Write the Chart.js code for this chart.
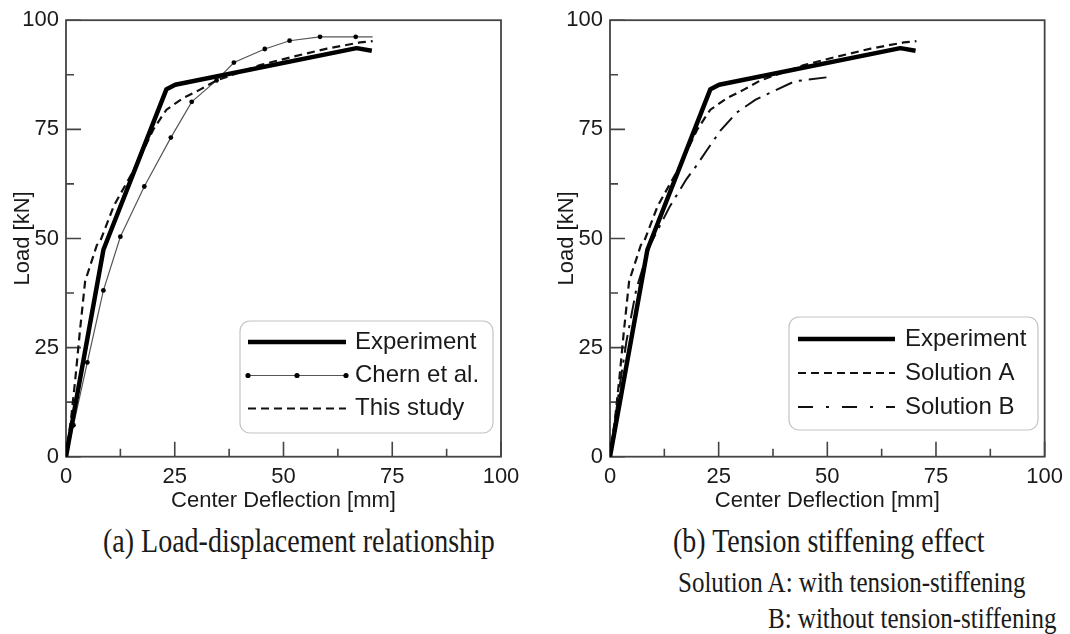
<!DOCTYPE html>
<html>
<head>
<meta charset="utf-8">
<title>Load-deflection curves</title>
<script src="https://cdn.jsdelivr.net/npm/chart.js@4.4.0/dist/chart.umd.min.js"></script>
<style>
  html, body { margin: 0; padding: 0; background: #fff; }
  #page { position: relative; width: 1070px; height: 634px; overflow: hidden; background: #fff; }
  canvas { position: absolute; top: 0; }
  .cap {
    position: absolute;
    font-family: "Liberation Serif", "Times New Roman", serif;
    color: #1a1a1a;
    white-space: nowrap;
    line-height: 1;
    transform: scaleY(1.2);
  }
</style>
</head>
<body>
<div id="page">
  <canvas id="chartA" width="544" height="520" style="left:0"></canvas>
  <canvas id="chartB" width="526" height="520" style="left:544px"></canvas>
  <div class="cap" style="left:103px; top:527px; font-size:28px;">(a) Load-displacement relationship</div>
  <div class="cap" style="left:673px; top:527px; font-size:28px;">(b) Tension stiffening effect</div>
  <div class="cap" style="left:678px; top:569px; font-size:25px;">Solution A: with tension-stiffening</div>
  <div class="cap" style="left:768px; top:605px; font-size:25px;">B: without tension-stiffening</div>
</div>
<script>
// ---- data: center deflection [mm] vs load [kN] ----
const expDefl   = [0, 8.6, 23.1, 25.1, 66.8, 70.3];
const expLoad   = [0, 47.4, 84.2, 85.2, 93.6, 93.0];

const chernDefl = [0, 1.7, 4.9, 8.6, 12.5, 18.0, 24.1, 28.9, 34.6, 38.6, 45.7, 51.4, 58.4, 66.6, 70.5];
const chernLoad = [0, 7.2, 21.6, 38.1, 50.4, 61.9, 73.1, 81.3, 86.2, 90.3, 93.4, 95.3, 96.2, 96.2, 96.2];

const studyDefl = [0, 1.2, 2.1, 3.2, 4.4, 7.1, 7.8, 11.0, 15.5, 20.1, 21.6, 23.1, 27.0, 29.3, 30.8, 34.6, 44.6, 52.0, 60.0, 67.6, 70.5];
const studyLoad = [0, 9.0, 17.4, 28.8, 40.2, 48.5, 49.2, 57.5, 65.5, 75.0, 77.3, 79.5, 82.2, 83.3, 84.1, 86.2, 89.7, 91.6, 93.5, 94.9, 95.2];

const solBDefl  = [0, 2.3, 3.8, 6.1, 9.2, 13.8, 17.6, 19.9, 22.2, 25.4, 29.1, 33.5, 42.5, 49.8];
const solBLoad  = [0, 16.7, 26.5, 38.6, 48.5, 57.4, 63.6, 66.7, 70.1, 74.7, 78.8, 81.8, 86.0, 86.9];

const xTickValues = [0, 25, 50, 75, 100];
const yTickValues = [0, 25, 50, 75, 100];

const pairs = (xs, ys) => xs.map((x, i) => ({ x, y: ys[i] }));

Chart.defaults.font.family = '"Liberation Sans", Arial, sans-serif';
Chart.defaults.color = '#1a1a1a';

// box frame around the plot area plus inward-pointing major/minor ticks
const frameTicks = {
  id: 'frameTicks',
  beforeDatasetsDraw(chart, args, opts) {
    const { ctx, chartArea: a, scales } = chart;
    ctx.save();
    ctx.strokeStyle = opts.color;
    ctx.lineWidth = opts.frameWidth;
    ctx.strokeRect(a.left, a.top, a.right - a.left, a.bottom - a.top);
    ctx.lineWidth = opts.tickWidth;
    ctx.beginPath();
    const drawSet = (scale, horizontal) => {
      const vals = scale.ticks.map(t => t.value);
      vals.forEach((v, i) => {
        const marks = [[v, opts.major]];
        if (i < vals.length - 1) marks.push([(v + vals[i + 1]) / 2, opts.minor]);
        marks.forEach(([val, len]) => {
          const p = scale.getPixelForValue(val);
          if (horizontal) { ctx.moveTo(p, a.bottom); ctx.lineTo(p, a.bottom - len); }
          else { ctx.moveTo(a.left, p); ctx.lineTo(a.left + len, p); }
        });
      });
    };
    drawSet(scales.x, true);
    drawSet(scales.y, false);
    ctx.stroke();
    ctx.restore();
  }
};

// framed legend with line samples taken from each dataset's style
const lineLegend = {
  id: 'lineLegend',
  afterDatasetsDraw(chart, args, o) {
    const { ctx } = chart;
    ctx.save();
    ctx.beginPath();
    ctx.roundRect(o.x, o.y, o.w, o.h, o.radius);
    ctx.fillStyle = '#fff';
    ctx.fill();
    ctx.strokeStyle = o.border;
    ctx.lineWidth = 1.2;
    ctx.stroke();
    chart.data.datasets.forEach((ds, i) => {
      const cy = o.rows[i];
      ctx.beginPath();
      ctx.setLineDash(ds.legendDash || ds.borderDash || []);
      ctx.strokeStyle = ds.borderColor;
      ctx.lineWidth = ds.borderWidth;
      ctx.moveTo(o.sx0, cy);
      ctx.lineTo(o.sx1, cy);
      ctx.stroke();
      ctx.setLineDash([]);
      if (ds.legendMarkers) {
        ctx.fillStyle = ds.pointBackgroundColor;
        [o.sx0, (o.sx0 + o.sx1) / 2, o.sx1].forEach(px => {
          ctx.beginPath();
          ctx.arc(px, cy, ds.legendMarkers, 0, Math.PI * 2);
          ctx.fill();
        });
      }
      ctx.fillStyle = '#1a1a1a';
      ctx.font = o.font;
      ctx.textBaseline = 'middle';
      ctx.textAlign = 'left';
      ctx.fillText(ds.label, o.tx, cy);
    });
    ctx.restore();
  }
};

function axes() {
  const tickFont = { size: 22 };
  return {
    x: {
      type: 'linear', min: 0, max: 100,
      afterBuildTicks: s => { s.ticks = xTickValues.map(v => ({ value: v })); },
      afterFit: s => { s.height = 60; },
      grid: { display: false, drawTicks: false },
      border: { display: false },
      ticks: { font: tickFont, padding: 7, color: '#1a1a1a', maxRotation: 0 },
      title: { display: true, text: 'Center Deflection [mm]', font: { size: 22 }, color: '#1a1a1a', padding: { top: 0, bottom: 2.5 } }
    },
    y: {
      type: 'linear', min: 0, max: 100,
      afterBuildTicks: s => { s.ticks = yTickValues.map(v => ({ value: v })); },
      afterFit: s => { s.width = 66; },
      grid: { display: false, drawTicks: false },
      border: { display: false },
      ticks: { font: tickFont, padding: 7, color: '#1a1a1a' },
      title: { display: true, text: 'Load [kN]', font: { size: 22 }, color: '#1a1a1a', padding: { top: 9.3, bottom: 0 } }
    }
  };
}

const experimentSet = () => ({
  label: 'Experiment', data: pairs(expDefl, expLoad),
  borderColor: '#000', borderWidth: 4.5, pointRadius: 0,
  borderJoinStyle: 'round', borderCapStyle: 'butt', order: 0
});

const frameOpts = { color: '#444', frameWidth: 1.8, tickWidth: 1.6, major: 15, minor: 8 };

new Chart(document.getElementById('chartA'), {
  type: 'line',
  data: {
    datasets: [
      experimentSet(),
      {
        label: 'Chern et al.', data: pairs(chernDefl, chernLoad),
        borderColor: '#555', borderWidth: 1.2,
        pointRadius: chernDefl.map((d, i) => (i === 0 || i === chernDefl.length - 1) ? 0 : 2.4),
        pointBackgroundColor: '#000', pointBorderWidth: 0, legendMarkers: 2.6, order: 2
      },
      {
        label: 'This study', data: pairs(studyDefl, studyLoad),
        borderColor: '#111', borderWidth: 2.2, borderDash: [8, 5], pointRadius: 0, order: 1
      }
    ]
  },
  options: {
    responsive: false, animation: false, events: [],
    layout: { padding: { top: 16.7, right: 43, bottom: 3.3, left: 0 } },
    scales: axes(),
    plugins: {
      legend: { display: false }, tooltip: { enabled: false },
      frameTicks: frameOpts,
      lineLegend: { x: 240, y: 321, w: 253, h: 112, radius: 10, border: '#c4c4c4',
        rows: [342, 375.5, 408.5], sx0: 248, sx1: 346, tx: 355, font: '24px "Liberation Sans", Arial, sans-serif' }
    }
  },
  plugins: [frameTicks, lineLegend]
});

new Chart(document.getElementById('chartB'), {
  type: 'line',
  data: {
    datasets: [
      experimentSet(),
      {
        label: 'Solution A', data: pairs(studyDefl, studyLoad),
        borderColor: '#111', borderWidth: 2.2, borderDash: [8, 5], pointRadius: 0, order: 1
      },
      {
        label: 'Solution B', data: pairs(solBDefl, solBLoad),
        borderColor: '#111', borderWidth: 2, borderDash: [18, 7, 3, 7], legendDash: [15, 13, 3, 13],
        pointRadius: 0, order: 2
      }
    ]
  },
  options: {
    responsive: false, animation: false, events: [],
    layout: { padding: { top: 16.7, right: 23.8, bottom: 3.3, left: 0 } },
    scales: axes(),
    plugins: {
      legend: { display: false }, tooltip: { enabled: false },
      frameTicks: frameOpts,
      lineLegend: { x: 245, y: 317, w: 249, h: 113, radius: 10, border: '#c4c4c4',
        rows: [339, 373, 407], sx0: 254, sx1: 351, tx: 361, font: '24px "Liberation Sans", Arial, sans-serif' }
    }
  },
  plugins: [frameTicks, lineLegend]
});
</script>
</body>
</html>
